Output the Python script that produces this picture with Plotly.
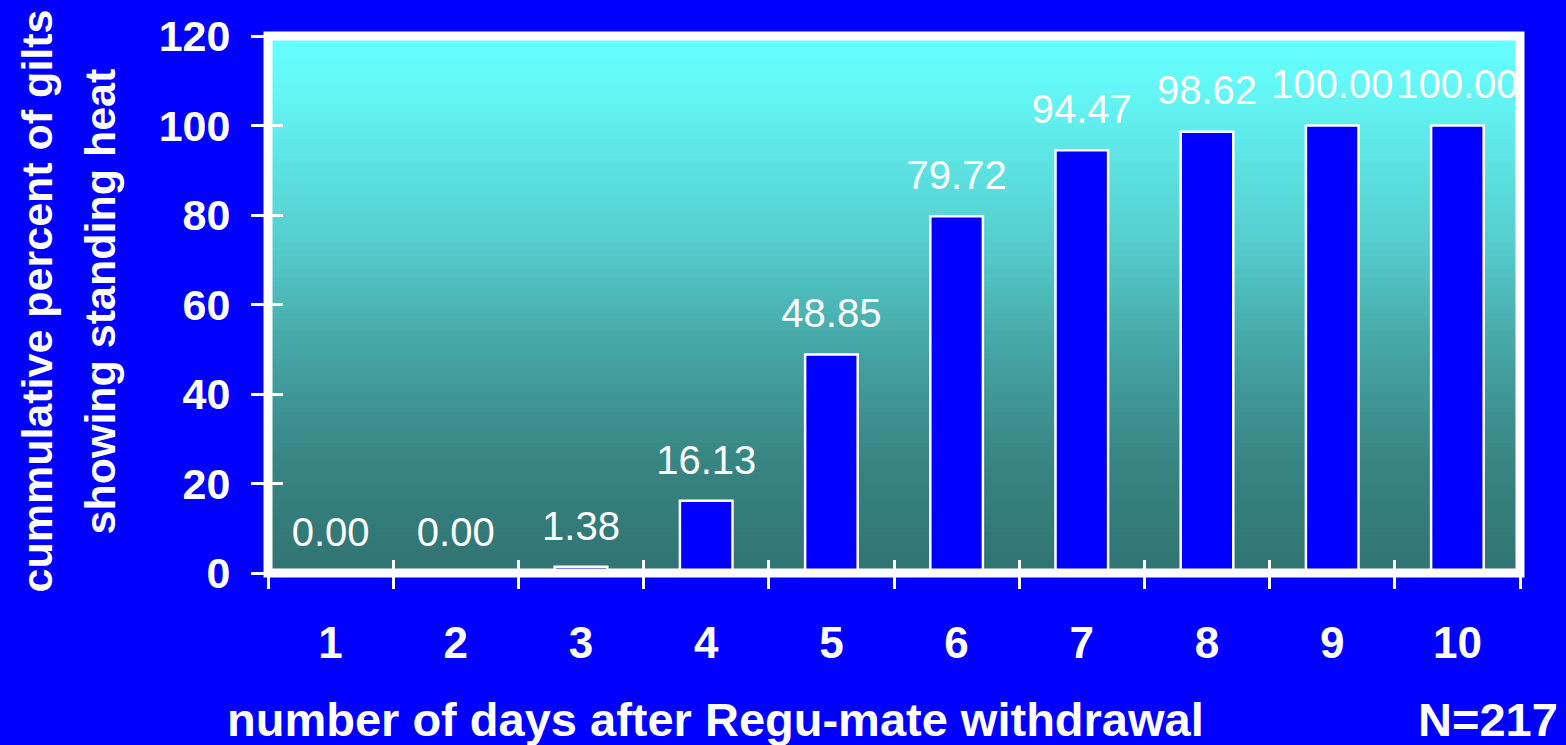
import plotly.graph_objects as go

# ---- data ----
days = ["1", "2", "3", "4", "5", "6", "7", "8", "9", "10"]
cum_percent = [0.00, 0.00, 1.38, 16.13, 48.85, 79.72, 94.47, 98.62, 100.00, 100.00]
value_labels = ["0.00", "0.00", "1.38", "16.13", "48.85", "79.72", "94.47", "98.62", "100.00", "100.00"]
y_ticks = [0, 20, 40, 60, 80, 100, 120]
x_title = "number of days after Regu-mate withdrawal"
y_title_1 = "cummulative percent of gilts"
y_title_2 = "showing standing heat"
n_note = "N=217"

BLUE = "#0000FF"
WHITE = "#FFFFFF"
FONT = "Liberation Sans, Arial, sans-serif"

# gradient stops (fraction from bottom, rgb)
grad_stops = [
    (0.00, (48, 116, 114)),
    (0.20, (55, 132, 130)),
    (0.40, (68, 162, 162)),
    (0.52, (78, 186, 186)),
    (0.62, (86, 206, 206)),
    (0.76, (93, 226, 226)),
    (0.90, (100, 246, 246)),
    (1.00, (102, 255, 255)),
]


def grad_color(t):
    for (t0, c0), (t1, c1) in zip(grad_stops[:-1], grad_stops[1:]):
        if t0 <= t <= t1:
            f = (t - t0) / (t1 - t0) if t1 > t0 else 0
            c = [round(a + (b - a) * f) for a, b in zip(c0, c1)]
            return "rgb(%d,%d,%d)" % tuple(c)
    return "rgb(%d,%d,%d)" % grad_stops[-1][1]


fig = go.Figure()

fig.add_trace(go.Bar(
    x=days, y=cum_percent,
    marker=dict(color=BLUE, line=dict(color=WHITE, width=2.5)),
    hoverinfo="skip", showlegend=False,
))

# value labels above bars (clipped at plot area like the original)
fig.add_trace(go.Scatter(
    x=days, y=cum_percent, text=value_labels,
    mode="markers+text", textposition="top center",
    marker=dict(size=26, opacity=0),
    textfont=dict(family=FONT, size=40, color=WHITE),
    cliponaxis=True, hoverinfo="skip", showlegend=False,
))

# invisible trace to create overlay axes for the inner halves of the ticks
fig.add_trace(go.Scatter(x=[None], y=[None], xaxis="x2", yaxis="y2",
                         mode="markers", showlegend=False, hoverinfo="skip"))

shapes = []
N = 120
for i in range(N):
    shapes.append(dict(
        type="rect", xref="x domain", yref="y domain",
        x0=0, x1=1, y0=i / N, y1=min(1, (i + 1) / N + 0.002),
        fillcolor=grad_color((i + 0.5) / N), line=dict(width=0), layer="below",
    ))
shapes.append(dict(
    type="rect", xref="x domain", yref="y domain", x0=0, x1=1, y0=0, y1=1,
    line=dict(color=WHITE, width=9), fillcolor="rgba(0,0,0,0)", layer="above",
))

tickfont = dict(family=FONT, size=43, color=WHITE, weight="bold")
xtickfont = dict(family=FONT, size=44, color=WHITE, weight="bold")
title_font = dict(family=FONT, size=47, color=WHITE, weight="bold")
ytitle_font = dict(family=FONT, size=43, color=WHITE, weight="bold")

fig.update_layout(
    width=1566, height=745,
    margin=dict(l=268, r=46, t=33, b=172, pad=0),
    paper_bgcolor=BLUE, plot_bgcolor=grad_color(0.5),
    bargap=0.58,
    shapes=shapes,
    xaxis=dict(
        type="category", range=[-0.5, 9.5], tickson="boundaries",
        ticks="outside", ticklen=15, tickwidth=3, tickcolor=WHITE,
        showline=False, showgrid=False, zeroline=False,
        tickfont=xtickfont, ticklabelstandoff=40,
    ),
    yaxis=dict(
        range=[0, 120], tickvals=y_ticks,
        ticks="outside", ticklen=16, tickwidth=3, tickcolor=WHITE,
        showline=False, showgrid=False, zeroline=False,
        tickfont=tickfont, ticklabelstandoff=12,
    ),
    xaxis2=dict(
        overlaying="x", anchor="y2", range=[-0.5, 9.5],
        tickvals=[i - 0.5 for i in range(len(days) + 1)],
        ticks="inside", ticklen=13, tickwidth=3, tickcolor=WHITE,
        showticklabels=False, showline=False, showgrid=False, zeroline=False,
    ),
    yaxis2=dict(
        overlaying="y", anchor="x2", range=[0, 120], tickvals=y_ticks,
        ticks="inside", ticklen=15, tickwidth=3, tickcolor=WHITE,
        showticklabels=False, showline=False, showgrid=False, zeroline=False,
    ),
    annotations=[
        dict(text=x_title, xref="paper", yref="paper",
             x=(715 - 268) / 1252, y=(573 - 720) / 540,
             xanchor="center", yanchor="middle", showarrow=False,
             font=title_font),
        dict(text=n_note, xref="paper", yref="paper",
             x=(1488 - 268) / 1252, y=(573 - 720) / 540,
             xanchor="center", yanchor="middle", showarrow=False,
             font=title_font),
        dict(text=y_title_1, xref="paper", yref="paper",
             x=(37 - 268) / 1252, y=(573 - 300) / 540, textangle=-90,
             xanchor="center", yanchor="middle", showarrow=False,
             font=ytitle_font),
        dict(text=y_title_2, xref="paper", yref="paper",
             x=(100 - 268) / 1252, y=(573 - 300) / 540, textangle=-90,
             xanchor="center", yanchor="middle", showarrow=False,
             font=ytitle_font),
    ],
)

fig.write_html("out.html")
